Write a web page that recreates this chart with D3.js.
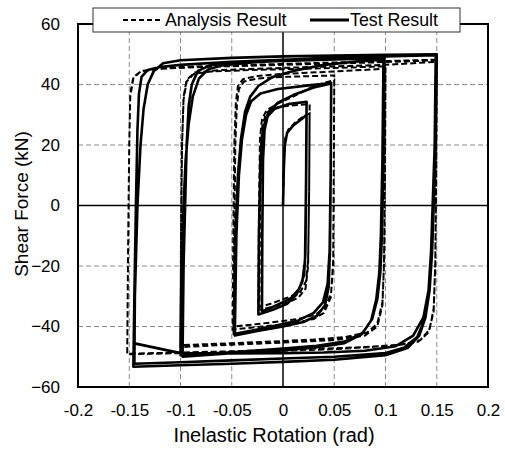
<!DOCTYPE html>
<html>
<head>
<meta charset="utf-8">
<script src="https://cdn.jsdelivr.net/npm/d3@7"></script>
<style>
  body { margin: 0; background: #fff; }
  text { font-family: "Liberation Sans", Arial, sans-serif; fill: #000; }
</style>
</head>
<body>
<svg id="chart" width="505" height="451"></svg>
<script>
// axis ticks
const xTicks = [-0.2, -0.15, -0.1, -0.05, 0, 0.05, 0.1, 0.15, 0.2];
const yTicks = [-60, -40, -20, 0, 20, 40, 60];
const xGrid = [-0.15, -0.1, -0.05, 0.05, 0.1, 0.15];
const yGrid = [-40, -20, 20, 40];

// test result (rotation rad, shear kN)
const testPoints = [
  // initial + 0.025 rad cycles
  [0,0],[0.0008,12],[0.0018,20],[0.004,24],[0.01,26.5],[0.018,28.5],[0.023,30],
  [0.0225,5],[0.0218,-16],[0.0205,-23],[0.016,-27.5],[0.008,-30.5],[0,-32],[-0.01,-33.5],[-0.0205,-35],
  [-0.0202,-10],[-0.0195,15],[-0.018,25],[-0.015,29.5],[-0.008,32],[0.005,33.5],[0.023,34.3],
  [0.0225,8],[0.0215,-18],[0.019,-25],[0.013,-29.5],[0.004,-32.5],[-0.01,-34.5],[-0.024,-36],
  [-0.0235,-10],[-0.022,15],[-0.019,26],[-0.014,31],[-0.005,34],[0.01,36.5],[0.03,39],[0.047,40.3],
  // 0.05 rad cycles
  [0.0465,10],[0.0458,-15],[0.0445,-27],[0.041,-33],[0.033,-36.5],[0.02,-38.5],[0,-40],[-0.025,-41.5],[-0.047,-43],
  [-0.0455,-10],[-0.043,10],[-0.04,22],[-0.036,30],[-0.031,34.5],[-0.022,37],[-0.005,38.5],[0.025,39.7],[0.047,40.5],
  [0.0465,10],[0.0455,-15],[0.0435,-26],[0.039,-32],[0.03,-35.5],[0.015,-38],[0,-39.2],[-0.025,-41],[-0.048,-42.5],
  [-0.0465,-10],[-0.044,10],[-0.041,22],[-0.037,31],[-0.032,36],[-0.024,39.5],[-0.01,42.5],[0.01,44.5],[0.04,46.5],[0.07,47.5],[0.098,48.2],
  // 0.1 rad cycles
  [0.097,15],[0.0955,-10],[0.094,-22],[0.091,-31],[0.086,-38],[0.077,-42.5],[0.06,-45.5],[0.03,-47],[0,-47.8],[-0.05,-48.8],[-0.098,-50],
  [-0.097,-20],[-0.0955,0],[-0.094,20],[-0.092,33],[-0.089,40],[-0.083,44.5],[-0.07,46.5],[-0.04,47.3],[0,47.8],[0.05,48.3],[0.099,48.7],
  [0.098,15],[0.0965,-10],[0.095,-22],[0.092,-31],[0.087,-37.5],[0.078,-42],[0.06,-45],[0.03,-46.5],[0,-47.3],[-0.05,-48.5],[-0.1,-49.5],
  [-0.099,-20],[-0.097,0],[-0.095,15],[-0.092,27],[-0.088,36],[-0.082,42],[-0.073,45],[-0.06,46.3],[-0.03,47.3],[0,48],[0.05,48.8],[0.1,49.3],[0.149,49.7],
  // 0.15 rad cycles
  [0.148,20],[0.146,0],[0.1445,-15],[0.142,-28],[0.139,-37],[0.133,-43],[0.122,-47],[0.1,-49.5],[0.05,-51],[0,-51.7],[-0.05,-52.3],[-0.1,-52.8],[-0.146,-53.3],
  [-0.145,-30],[-0.1435,0],[-0.142,25],[-0.1405,37],[-0.138,42.5],[-0.132,44.8],[-0.12,45.8],[-0.1,46.5],[-0.05,47.5],[0,48.2],[0.05,48.8],[0.1,49.3],[0.15,49.8],
  [0.149,20],[0.147,0],[0.1455,-15],[0.143,-28],[0.139,-37],[0.131,-43.5],[0.118,-47],[0.1,-48.8],[0.05,-50],[0,-50.6],[-0.05,-51.2],[-0.1,-51.8],[-0.145,-52.3],
  [-0.1445,-30],[-0.142,0],[-0.139,20],[-0.136,32],[-0.132,40],[-0.126,44.5],[-0.117,47],[-0.1,48],[-0.05,48.8],[0,49.3],[0.05,49.6],[0.1,49.8],[0.15,50],
  [0.149,20],[0.147,0],[0.145,-15],[0.142,-28],[0.137,-37],[0.127,-43],[0.11,-46.5],[0.08,-48],[0.04,-48.6],[0,-48.8],[-0.05,-48.9],[-0.1,-48.8],[-0.146,-45.5]
];

// analysis result
const analysisPoints = [
  // initial + 0.025 rad cycles
  [0,0],[0.001,16],[0.002,22],[0.005,25],[0.012,27.5],[0.02,29.5],[0.026,30.5],
  [0.0255,5],[0.0245,-18],[0.0225,-25],[0.017,-28.5],[0.008,-30],[0,-31],[-0.012,-32.5],[-0.023,-33.5],
  [-0.0225,-5],[-0.0215,20],[-0.02,27],[-0.016,30.5],[-0.008,32.3],[0.005,33],[0.026,33.5],
  [0.0255,5],[0.0245,-20],[0.022,-27.5],[0.015,-30.5],[0.005,-32],[-0.01,-33.5],[-0.024,-34.5],
  [-0.0235,-5],[-0.0225,22],[-0.0205,28.5],[-0.016,31.5],[-0.006,33.5],[0.01,36],[0.03,39.5],[0.05,41.5],
  // 0.05 rad cycles
  [0.0495,10],[0.049,-18],[0.047,-28.5],[0.042,-33.5],[0.032,-36],[0.015,-37.5],[0,-38.2],[-0.025,-39.2],[-0.048,-40],
  [-0.0475,-10],[-0.0465,20],[-0.045,33],[-0.043,38.5],[-0.038,41],[-0.025,42],[0,42.5],[0.05,43],
  [0.0495,10],[0.049,-20],[0.0465,-30.5],[0.04,-35.5],[0.03,-37.5],[0.01,-39],[-0.02,-40],[-0.049,-41],
  [-0.0485,-10],[-0.0475,20],[-0.046,34],[-0.044,39.5],[-0.039,41.8],[-0.025,42.8],[0,43.5],[0.05,44.3],[0.1,45.2],
  // 0.1 rad cycles
  [0.0995,10],[0.0985,-20],[0.097,-32],[0.092,-39],[0.082,-42],[0.06,-43.5],[0.03,-44.3],[0,-44.8],[-0.05,-45.5],[-0.1,-46.2],
  [-0.0995,-10],[-0.0985,20],[-0.097,35],[-0.094,41],[-0.087,43.5],[-0.07,44.3],[-0.03,44.8],[0.03,45.3],[0.1,46],
  [0.0995,10],[0.0985,-20],[0.097,-33],[0.092,-40],[0.08,-43],[0.05,-44.5],[0,-45.3],[-0.05,-46],[-0.1,-46.8],
  [-0.0995,-10],[-0.0985,20],[-0.097,36],[-0.094,41.5],[-0.086,44],[-0.06,44.8],[0,45.5],[0.1,46.5],[0.15,47.5],
  // 0.15 rad cycles
  [0.1495,10],[0.1485,-20],[0.147,-34],[0.143,-41],[0.134,-44.5],[0.115,-46],[0.08,-46.8],[0.04,-47.3],[0,-47.7],[-0.05,-48.2],[-0.1,-48.6],[-0.152,-49],
  [-0.151,-10],[-0.15,20],[-0.149,36],[-0.146,42],[-0.139,44.3],[-0.12,45.2],[-0.08,45.8],[0,46.5],[0.08,47.2],[0.15,48],
  [0.1495,10],[0.1485,-20],[0.147,-35],[0.142,-42],[0.132,-45],[0.11,-46.3],[0.05,-47.5],[0,-48],[-0.05,-48.4],[-0.1,-48.8],[-0.152,-49.2],
  [-0.151,-10],[-0.15,20],[-0.149,37],[-0.146,42.5],[-0.138,44.5],[-0.1,45.8],[0,46.8],[0.15,48.2]
];

const width = 505;
const height = 451;
const margin = {top: 24, right: 17, bottom: 64, left: 78};

const svg = d3.select("#chart");

const x = d3.scaleLinear().domain([-0.2, 0.2]).range([margin.left, width - margin.right]);
const y = d3.scaleLinear().domain([-60, 60]).range([height - margin.bottom, margin.top]);

// grid lines
svg.append("g")
  .selectAll("line")
  .data(xGrid)
  .join("line")
  .attr("x1", d => x(d)).attr("x2", d => x(d))
  .attr("y1", y(-60)).attr("y2", y(60))
  .attr("stroke", "#8c8c8c")
  .attr("stroke-width", 1)
  .attr("stroke-dasharray", "5,3");

svg.append("g")
  .selectAll("line")
  .data(yGrid)
  .join("line")
  .attr("x1", x(-0.2)).attr("x2", x(0.2))
  .attr("y1", d => y(d)).attr("y2", d => y(d))
  .attr("stroke", "#8c8c8c")
  .attr("stroke-width", 1)
  .attr("stroke-dasharray", "5,3");

// zero lines
svg.append("line")
  .attr("x1", x(0)).attr("x2", x(0))
  .attr("y1", y(-60)).attr("y2", y(60))
  .attr("stroke", "#000").attr("stroke-width", 1.5);
svg.append("line")
  .attr("x1", x(-0.2)).attr("x2", x(0.2))
  .attr("y1", y(0)).attr("y2", y(0))
  .attr("stroke", "#000").attr("stroke-width", 1.5);

// curves
const line = d3.line()
  .x(d => x(d[0]))
  .y(d => y(d[1]));

svg.append("path")
  .datum(testPoints)
  .attr("d", line)
  .attr("fill", "none")
  .attr("stroke", "#000")
  .attr("stroke-width", 2.6)
  .attr("stroke-linejoin", "round");

svg.append("path")
  .datum(analysisPoints)
  .attr("d", line)
  .attr("fill", "none")
  .attr("stroke", "#000")
  .attr("stroke-width", 2)
  .attr("stroke-dasharray", "6,3");

// plot border
svg.append("rect")
  .attr("x", x(-0.2)).attr("y", y(60))
  .attr("width", x(0.2) - x(-0.2))
  .attr("height", y(-60) - y(60))
  .attr("fill", "none")
  .attr("stroke", "#000")
  .attr("stroke-width", 2);

// axes
const xAxis = svg.append("g")
  .attr("transform", `translate(0,${y(-60)})`)
  .call(d3.axisBottom(x).tickValues(xTicks).tickSize(0).tickPadding(17).tickFormat(d => String(d)));
xAxis.select(".domain").remove();
xAxis.selectAll("text").style("font-size", "17px");

const yAxis = svg.append("g")
  .attr("transform", `translate(${x(-0.2)},0)`)
  .call(d3.axisLeft(y).tickValues(yTicks).tickSize(0).tickPadding(18));
yAxis.select(".domain").remove();
yAxis.selectAll("text").style("font-size", "17px");
svg.selectAll(".tick text").attr("fill", "#000");
svg.selectAll("g").attr("font-family", null);

// axis titles
svg.append("text")
  .attr("x", 274)
  .attr("y", 442)
  .attr("text-anchor", "middle")
  .style("font-size", "20px")
  .text("Inelastic Rotation (rad)");

svg.append("text")
  .attr("transform", `translate(28,204) rotate(-90)`)
  .attr("text-anchor", "middle")
  .style("font-size", "19px")
  .text("Shear Force (kN)");

// legend
const legend = svg.append("g");
legend.append("rect")
  .attr("x", 93).attr("y", 8)
  .attr("width", 367).attr("height", 24)
  .attr("fill", "#fff")
  .attr("stroke", "#333")
  .attr("stroke-width", 1);

legend.append("line")
  .attr("x1", 123).attr("x2", 163)
  .attr("y1", 20).attr("y2", 20)
  .attr("stroke", "#000").attr("stroke-width", 2)
  .attr("stroke-dasharray", "5,3");
legend.append("text")
  .attr("x", 165).attr("y", 26)
  .style("font-size", "17.8px")
  .text("Analysis Result");

legend.append("line")
  .attr("x1", 310).attr("x2", 349)
  .attr("y1", 20).attr("y2", 20)
  .attr("stroke", "#000").attr("stroke-width", 3);
legend.append("text")
  .attr("x", 350).attr("y", 26)
  .style("font-size", "17.8px")
  .text("Test Result");
</script>
</body>
</html>
